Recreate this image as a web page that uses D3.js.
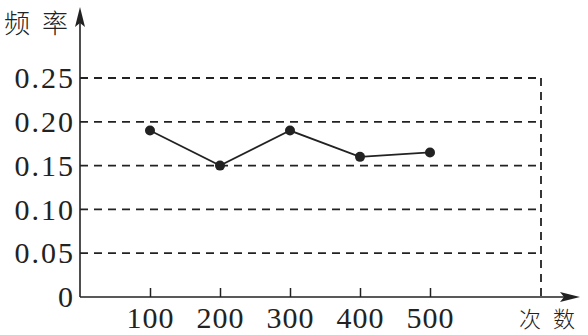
<!DOCTYPE html>
<html>
<head>
<meta charset="utf-8">
<title>频率</title>
<style>
  body { margin: 0; background: #fff; }
  svg { display: block; }
</style>
</head>
<body>
<script src="https://d3js.org/d3.v7.min.js"></script>
<script>
const counts = [100, 200, 300, 400, 500];
const freqs = [0.19, 0.15, 0.19, 0.16, 0.165];
const yTicks = [0, 0.05, 0.10, 0.15, 0.20, 0.25];

const w = 588, h = 335;
const ink = "#222";
const serif = "'Liberation Serif', 'DejaVu Serif', serif";
const cjk = "'Noto Sans CJK SC', sans-serif";

const x = d3.scaleLinear().domain([0, 500]).range([80, 430]);
const y = d3.scaleLinear().domain([0, 0.25]).range([297, 78]);
const frameRight = 541;

const svg = d3.select("body").append("svg")
  .attr("width", w).attr("height", h);

// dashed grid
svg.append("g").selectAll("line")
  .data(yTicks.filter(d => d > 0))
  .join("line")
  .attr("x1", x(0)).attr("x2", frameRight)
  .attr("y1", d => y(d)).attr("y2", d => y(d))
  .attr("stroke", ink).attr("stroke-width", 1.8)
  .attr("stroke-dasharray", "8,6");

svg.append("line")
  .attr("x1", frameRight).attr("x2", frameRight)
  .attr("y1", y(0.25)).attr("y2", y(0))
  .attr("stroke", ink).attr("stroke-width", 1.8)
  .attr("stroke-dasharray", "8,6");

// axes lines with arrows
svg.append("line")
  .attr("x1", x(0)).attr("x2", 570)
  .attr("y1", y(0)).attr("y2", y(0))
  .attr("stroke", ink).attr("stroke-width", 1.6);
svg.append("path")
  .attr("d", `M580,${y(0)} L560,${y(0) - 5} L564,${y(0)} L560,${y(0) + 5} Z`)
  .attr("fill", ink);

svg.append("line")
  .attr("x1", x(0)).attr("x2", x(0))
  .attr("y1", y(0)).attr("y2", 18)
  .attr("stroke", ink).attr("stroke-width", 1.6);
svg.append("path")
  .attr("d", `M${x(0)},7 L${x(0) - 5},27 L${x(0)},23 L${x(0) + 5},27 Z`)
  .attr("fill", ink);

// x ticks
const xAxis = svg.append("g")
  .attr("transform", `translate(0,${y(0)})`)
  .call(d3.axisBottom(x).tickValues(counts).tickSizeInner(-9).tickSizeOuter(0).tickPadding(10));
xAxis.select(".domain").remove();
xAxis.selectAll(".tick line").attr("stroke", ink).attr("stroke-width", 1.5);
xAxis.selectAll("text")
  .attr("fill", ink)
  .style("font-family", serif).style("font-size", "30px")
  .style("letter-spacing", "1px");

// y labels
const yAxis = svg.append("g")
  .attr("transform", `translate(${x(0)},0)`)
  .call(d3.axisLeft(y).tickValues(yTicks).tickSize(0).tickPadding(5)
    .tickFormat(d => d === 0 ? "0" : d.toFixed(2)));
yAxis.select(".domain").remove();
yAxis.selectAll("text")
  .attr("fill", ink)
  .style("font-family", serif).style("font-size", "30px")
  .style("letter-spacing", "2px");

// data line
const pts = counts.map((c, i) => [c, freqs[i]]);
svg.append("path")
  .datum(pts)
  .attr("d", d3.line().x(d => x(d[0])).y(d => y(d[1])))
  .attr("fill", "none").attr("stroke", ink).attr("stroke-width", 1.8);

svg.append("g").selectAll("circle")
  .data(pts)
  .join("circle")
  .attr("cx", d => x(d[0])).attr("cy", d => y(d[1]))
  .attr("r", 5).attr("fill", ink);

// axis titles
svg.append("text")
  .attr("x", 4).attr("y", 33)
  .attr("fill", ink)
  .style("font-family", cjk).style("font-size", "26px").style("font-weight", 300)
  .style("letter-spacing", "12px")
  .text("频率");

svg.append("text")
  .attr("x", 519).attr("y", 327)
  .attr("fill", ink)
  .style("font-family", cjk).style("font-size", "22px").style("font-weight", 300)
  .style("letter-spacing", "12px")
  .text("次数");
</script>
</body>
</html>
